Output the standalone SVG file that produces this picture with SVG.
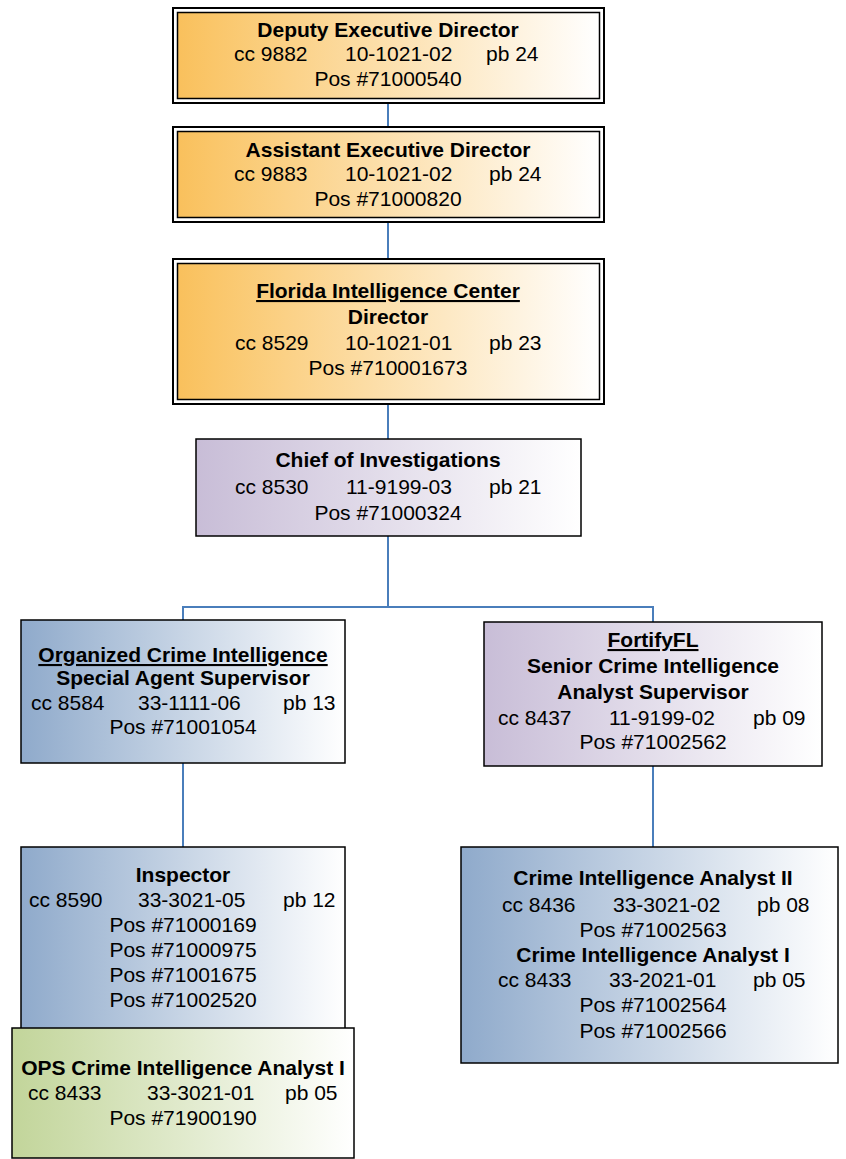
<svg xmlns="http://www.w3.org/2000/svg" width="846" height="1159" viewBox="0 0 846 1159">
  <defs>
    <linearGradient id="gOrange" x1="0" y1="0" x2="1" y2="0">
      <stop offset="0" stop-color="#F9C05C"/>
      <stop offset="0.08" stop-color="#FAC669"/>
      <stop offset="1" stop-color="#FFFFFF"/>
    </linearGradient>
    <linearGradient id="gPurple" x1="0" y1="0" x2="1" y2="0">
      <stop offset="0" stop-color="#C8BDD7"/>
      <stop offset="1" stop-color="#FFFFFF"/>
    </linearGradient>
    <linearGradient id="gBlue" x1="0" y1="0" x2="1" y2="0">
      <stop offset="0" stop-color="#8FAACB"/>
      <stop offset="1" stop-color="#FFFFFF"/>
    </linearGradient>
    <linearGradient id="gGreen" x1="0" y1="0" x2="1" y2="0">
      <stop offset="0" stop-color="#C2D59A"/>
      <stop offset="1" stop-color="#FFFFFF"/>
    </linearGradient>
    <style>
      text { font-family: "Liberation Sans", Arial, sans-serif; font-size: 21px; fill: #000; }
      .b { font-weight: bold; }
      .m { text-anchor: middle; }
      .u { text-decoration: underline; }
      .outer { fill: #FFFFFF; stroke: #000; stroke-width: 2; }
      .inner { stroke: #000; stroke-width: 1.5; }
      .box { stroke: #000; stroke-width: 1.5; }
      .conn { stroke: #4A7EBB; stroke-width: 2; fill: none; }
    </style>
  </defs>

  <rect width="846" height="1159" fill="#FFFFFF"/>

  <!-- reporting lines -->
  <g id="connectors">
    <line class="conn" x1="388" y1="103" x2="388" y2="127"/>
    <line class="conn" x1="388" y1="222" x2="388" y2="259"/>
    <line class="conn" x1="388" y1="404" x2="388" y2="439"/>
    <line class="conn" x1="388" y1="536" x2="388" y2="607"/>
    <line class="conn" x1="183" y1="607" x2="653" y2="607"/>
    <line class="conn" x1="183" y1="606" x2="183" y2="620"/>
    <line class="conn" x1="653" y1="606" x2="653" y2="622"/>
    <line class="conn" x1="183" y1="763" x2="183" y2="847"/>
    <line class="conn" x1="653" y1="766" x2="653" y2="847"/>
    <line class="conn" x1="183" y1="1020" x2="183" y2="1032"/>
  </g>

  <!-- Deputy Executive Director -->
  <g id="deputy-executive-director">
    <rect class="outer" x="173" y="8" width="431" height="95"/>
    <rect class="inner" fill="url(#gOrange)" x="177.5" y="12.5" width="422" height="86"/>
    <text class="b m" x="388" y="37">Deputy Executive Director</text>
    <text x="234" y="61">cc 9882</text>
    <text x="345" y="61">10-1021-02</text>
    <text x="486" y="61">pb 24</text>
    <text class="m" x="388" y="86">Pos #71000540</text>
  </g>

  <!-- Assistant Executive Director -->
  <g id="assistant-executive-director">
    <rect class="outer" x="173" y="127" width="431" height="95"/>
    <rect class="inner" fill="url(#gOrange)" x="177.5" y="131.5" width="422" height="86"/>
    <text class="b m" x="388" y="157">Assistant Executive Director</text>
    <text x="234" y="181">cc 9883</text>
    <text x="345" y="181">10-1021-02</text>
    <text x="489" y="181">pb 24</text>
    <text class="m" x="388" y="206">Pos #71000820</text>
  </g>

  <!-- Florida Intelligence Center Director -->
  <g id="fic-director">
    <rect class="outer" x="173" y="259" width="431" height="145"/>
    <rect class="inner" fill="url(#gOrange)" x="177.5" y="263.5" width="422" height="136"/>
    <text class="b m u" x="388" y="298">Florida Intelligence Center</text>
    <text class="b m" x="388" y="324">Director</text>
    <text x="235" y="350">cc 8529</text>
    <text x="345" y="350">10-1021-01</text>
    <text x="489" y="350">pb 23</text>
    <text class="m" x="388" y="375">Pos #710001673</text>
  </g>

  <!-- Chief of Investigations -->
  <g id="chief-of-investigations">
    <rect class="box" fill="url(#gPurple)" x="196" y="439" width="385" height="97"/>
    <text class="b m" x="388" y="467">Chief of Investigations</text>
    <text x="235" y="494">cc 8530</text>
    <text x="346" y="494">11-9199-03</text>
    <text x="489" y="494">pb 21</text>
    <text class="m" x="388" y="520">Pos #71000324</text>
  </g>

  <!-- Organized Crime Intelligence Special Agent Supervisor -->
  <g id="oci-supervisor">
    <rect class="box" fill="url(#gBlue)" x="21" y="620" width="324" height="143"/>
    <text class="b m u" x="183" y="662">Organized Crime Intelligence</text>
    <text class="b m" x="183" y="685">Special Agent Supervisor</text>
    <text x="31" y="710">cc 8584</text>
    <text x="138" y="710">33-1111-06</text>
    <text x="283" y="710">pb 13</text>
    <text class="m" x="183" y="734">Pos #71001054</text>
  </g>

  <!-- FortifyFL Senior Crime Intelligence Analyst Supervisor -->
  <g id="fortifyfl-supervisor">
    <rect class="box" fill="url(#gPurple)" x="484" y="622" width="338" height="144"/>
    <text class="b m u" x="653" y="647">FortifyFL</text>
    <text class="b m" x="653" y="673">Senior Crime Intelligence</text>
    <text class="b m" x="653" y="699">Analyst Supervisor</text>
    <text x="498" y="725">cc 8437</text>
    <text x="609" y="725">11-9199-02</text>
    <text x="753" y="725">pb 09</text>
    <text class="m" x="653" y="749">Pos #71002562</text>
  </g>

  <!-- Inspector -->
  <g id="inspector">
    <rect class="box" fill="url(#gBlue)" x="21" y="847" width="324" height="185"/>
    <text class="b m" x="183" y="882">Inspector</text>
    <text x="29" y="907">cc 8590</text>
    <text x="138" y="907">33-3021-05</text>
    <text x="283" y="907">pb 12</text>
    <text class="m" x="183" y="932">Pos #71000169</text>
    <text class="m" x="183" y="957">Pos #71000975</text>
    <text class="m" x="183" y="982">Pos #71001675</text>
    <text class="m" x="183" y="1007">Pos #71002520</text>
  </g>

  <!-- OPS Crime Intelligence Analyst I -->
  <g id="ops-analyst">
    <rect class="box" fill="url(#gGreen)" x="12" y="1028" width="342" height="130"/>
    <text class="b m" x="183" y="1075">OPS Crime Intelligence Analyst I</text>
    <text x="28" y="1100">cc 8433</text>
    <text x="147" y="1100">33-3021-01</text>
    <text x="285" y="1100">pb 05</text>
    <text class="m" x="183" y="1125">Pos #71900190</text>
  </g>

  <!-- Crime Intelligence Analysts -->
  <g id="crime-intelligence-analysts">
    <rect class="box" fill="url(#gBlue)" x="461" y="847" width="377" height="216"/>
    <text class="b m" x="653" y="885">Crime Intelligence Analyst II</text>
    <text x="502" y="912">cc 8436</text>
    <text x="613" y="912">33-3021-02</text>
    <text x="757" y="912">pb 08</text>
    <text class="m" x="653" y="937">Pos #71002563</text>
    <text class="b m" x="653" y="962">Crime Intelligence Analyst I</text>
    <text x="498" y="987">cc 8433</text>
    <text x="609" y="987">33-2021-01</text>
    <text x="753" y="987">pb 05</text>
    <text class="m" x="653" y="1012">Pos #71002564</text>
    <text class="m" x="653" y="1038">Pos #71002566</text>
  </g>
</svg>
